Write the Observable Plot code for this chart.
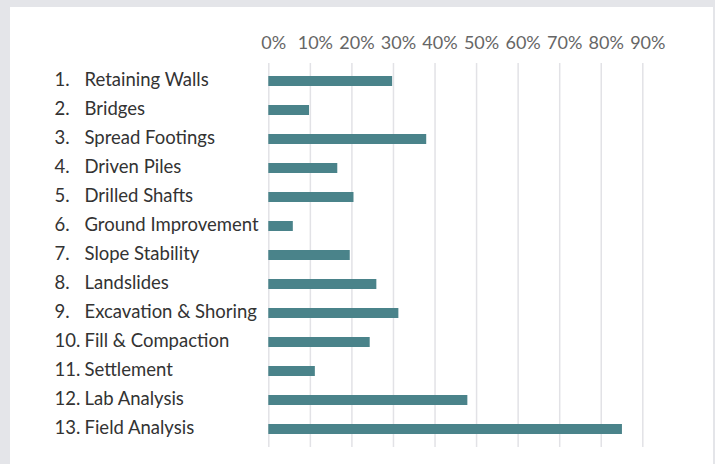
<!DOCTYPE html>
<html>
<head>
<meta charset="utf-8">
<script src="https://cdn.jsdelivr.net/npm/d3@7"></script>
<script src="https://cdn.jsdelivr.net/npm/@observablehq/plot@0.6"></script>
<style>
  html, body { margin: 0; padding: 0; background: #e4e5e9; width: 715px; height: 464px; overflow: hidden; }
  #panel { position: absolute; left: 10px; top: 7px; width: 703px; height: 457px; background: #ffffff; }
  #panel svg { display: block; background: transparent; }
</style>
</head>
<body>
<div id="panel"></div>
<script>
const nums = ["1.", "2.", "3.", "4.", "5.", "6.", "7.", "8.", "9.", "10.", "11.", "12.", "13."];
const names = ["Retaining Walls", "Bridges", "Spread Footings", "Driven Piles", "Drilled Shafts",
  "Ground Improvement", "Slope Stability", "Landslides", "Excavation & Shoring",
  "Fill & Compaction", "Settlement", "Lab Analysis", "Field Analysis"];
const values = [29.8, 9.8, 38.0, 16.6, 20.5, 5.9, 19.6, 26.0, 31.3, 24.4, 11.2, 47.9, 85.1];
const ticks = [0, 10, 20, 30, 40, 50, 60, 70, 80, 90];

const data = names.map((n, i) => ({num: nums[i], name: n, value: values[i]}));

const W = 703, H = 457, ML = 258.3;
const chart = Plot.plot({
  width: W,
  height: H,
  marginLeft: ML,
  marginRight: 70.7,
  marginTop: 56,
  marginBottom: 17,
  style: {fontFamily: "Lato, 'Open Sans', sans-serif", background: "transparent"},
  x: {domain: [0, 90], axis: null, label: null},
  y: {domain: names, paddingInner: 0.66, paddingOuter: 0.376, axis: null, label: null},
  marks: [
    Plot.gridX(ticks, {stroke: "#e2e2e6", strokeOpacity: 1, strokeWidth: 1.5}),
    Plot.axisX(ticks, {anchor: "top", label: null, tickSize: 0, tickPadding: 15, tickFormat: d => d + "%",
      fontSize: 18, fill: "#666666", dx: 5}),
    Plot.barX(data, {x: "value", y: "name", fill: "#4a838a"}),
    Plot.text(data, {y: "name", text: "num", frameAnchor: "left", textAnchor: "start",
      dx: 44 - ML, dy: -1, fontSize: 18.5, fill: "#333333"}),
    Plot.text(data, {y: "name", text: "name", frameAnchor: "left", textAnchor: "start",
      dx: 74 - ML, dy: -1, fontSize: 18.5, fill: "#333333"})
  ]
});
document.getElementById("panel").appendChild(chart);
</script>
</body>
</html>
